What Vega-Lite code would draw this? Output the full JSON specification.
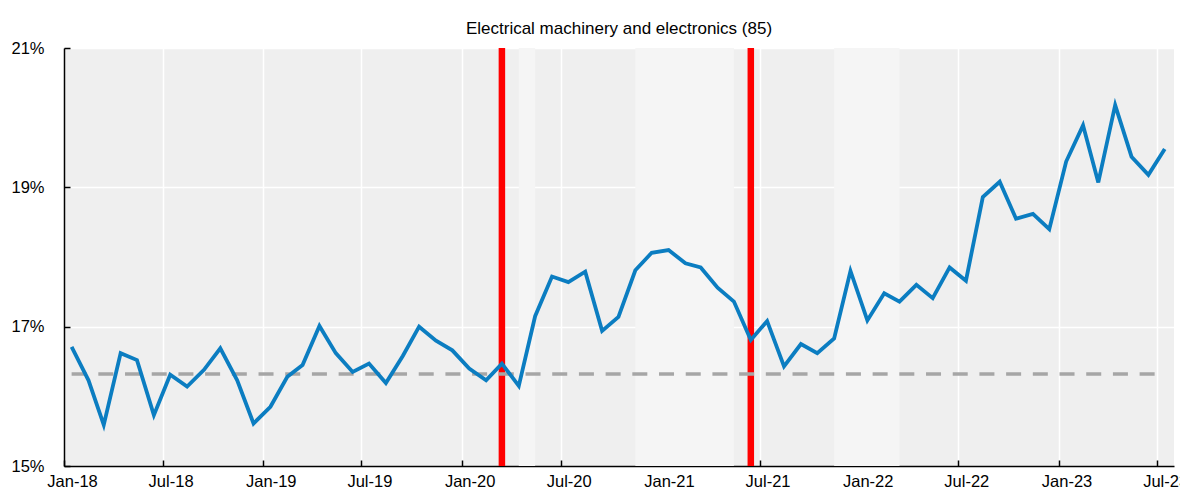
{
  "$schema": "https://vega.github.io/schema/vega-lite/v6.json",
  "autosize": {"type": "none"},
  "width": 1110,
  "height": 418,
  "padding": {"left": 64, "top": 48, "right": 6, "bottom": 25},
  "title": {
    "text": "Electrical machinery and electronics (85)",
    "font": "Liberation Sans, Arial, sans-serif",
    "fontSize": 17,
    "fontWeight": "normal",
    "color": "#000000",
    "anchor": "middle",
    "baseline": "alphabetic",
    "offset": -11
  },
  "config": {
    "view": {"fill": "#efefef", "stroke": null},
    "axis": {
      "domainColor": "#000000",
      "domainWidth": 1.5,
      "tickColor": "#000000",
      "tickWidth": 1.5,
      "tickSize": -6,
      "gridColor": "#ffffff",
      "gridWidth": 1.5,
      "gridOpacity": 1,
      "labelFont": "Liberation Sans, Arial, sans-serif",
      "labelFontSize": 16.5,
      "labelColor": "#000000",
      "title": null
    }
  },
  "datasets": {
    "series": [
      {"month": "2018-01-15", "share": 16.71},
      {"month": "2018-02-15", "share": 16.23},
      {"month": "2018-03-15", "share": 15.59},
      {"month": "2018-04-15", "share": 16.62},
      {"month": "2018-05-15", "share": 16.52},
      {"month": "2018-06-15", "share": 15.73},
      {"month": "2018-07-15", "share": 16.31},
      {"month": "2018-08-15", "share": 16.14},
      {"month": "2018-09-15", "share": 16.38},
      {"month": "2018-10-15", "share": 16.69},
      {"month": "2018-11-15", "share": 16.23},
      {"month": "2018-12-15", "share": 15.61},
      {"month": "2019-01-15", "share": 15.85},
      {"month": "2019-02-15", "share": 16.28},
      {"month": "2019-03-15", "share": 16.45},
      {"month": "2019-04-15", "share": 17.01},
      {"month": "2019-05-15", "share": 16.62},
      {"month": "2019-06-15", "share": 16.35},
      {"month": "2019-07-15", "share": 16.47},
      {"month": "2019-08-15", "share": 16.19},
      {"month": "2019-09-15", "share": 16.58},
      {"month": "2019-10-15", "share": 17.0},
      {"month": "2019-11-15", "share": 16.8},
      {"month": "2019-12-15", "share": 16.66},
      {"month": "2020-01-15", "share": 16.4},
      {"month": "2020-02-15", "share": 16.23},
      {"month": "2020-03-15", "share": 16.47},
      {"month": "2020-04-15", "share": 16.15},
      {"month": "2020-05-15", "share": 17.15},
      {"month": "2020-06-15", "share": 17.72},
      {"month": "2020-07-15", "share": 17.64},
      {"month": "2020-08-15", "share": 17.79},
      {"month": "2020-09-15", "share": 16.94},
      {"month": "2020-10-15", "share": 17.14},
      {"month": "2020-11-15", "share": 17.81},
      {"month": "2020-12-15", "share": 18.06},
      {"month": "2021-01-15", "share": 18.1},
      {"month": "2021-02-15", "share": 17.91},
      {"month": "2021-03-15", "share": 17.85},
      {"month": "2021-04-15", "share": 17.56},
      {"month": "2021-05-15", "share": 17.36},
      {"month": "2021-06-15", "share": 16.81},
      {"month": "2021-07-15", "share": 17.08},
      {"month": "2021-08-15", "share": 16.43},
      {"month": "2021-09-15", "share": 16.75},
      {"month": "2021-10-15", "share": 16.62},
      {"month": "2021-11-15", "share": 16.83},
      {"month": "2021-12-15", "share": 17.8},
      {"month": "2022-01-15", "share": 17.09},
      {"month": "2022-02-15", "share": 17.48},
      {"month": "2022-03-15", "share": 17.36},
      {"month": "2022-04-15", "share": 17.6},
      {"month": "2022-05-15", "share": 17.41},
      {"month": "2022-06-15", "share": 17.85},
      {"month": "2022-07-15", "share": 17.66},
      {"month": "2022-08-15", "share": 18.86},
      {"month": "2022-09-15", "share": 19.08},
      {"month": "2022-10-15", "share": 18.55},
      {"month": "2022-11-15", "share": 18.62},
      {"month": "2022-12-15", "share": 18.4},
      {"month": "2023-01-15", "share": 19.37},
      {"month": "2023-02-15", "share": 19.89},
      {"month": "2023-03-15", "share": 19.07},
      {"month": "2023-04-15", "share": 20.18},
      {"month": "2023-05-15", "share": 19.44},
      {"month": "2023-06-15", "share": 19.18},
      {"month": "2023-07-15", "share": 19.55}
    ],
    "bands": [
      {"start": "2020-04-15", "end": "2020-05-15"},
      {"start": "2020-11-15", "end": "2021-05-15"},
      {"start": "2021-11-15", "end": "2022-03-15"}
    ],
    "events": [
      {"month": "2020-03-15"},
      {"month": "2021-06-15"}
    ],
    "average": [
      {"start": "2018-01-15", "end": "2023-07-15", "share": 16.32}
    ]
  },
  "layer": [
    {
      "data": {"name": "bands"},
      "mark": {"type": "rect", "fill": "#f5f5f5"},
      "encoding": {
        "x": {"field": "start", "type": "temporal"},
        "x2": {"field": "end"}
      }
    },
    {
      "data": {"name": "events"},
      "mark": {"type": "rule", "color": "#ff0000", "strokeWidth": 6.5},
      "encoding": {
        "x": {"field": "month", "type": "temporal"}
      }
    },
    {
      "data": {"name": "average"},
      "mark": {"type": "rule", "color": "#a6a6a6", "strokeWidth": 3.5, "strokeDash": [15, 11.7]},
      "encoding": {
        "x": {"field": "start", "type": "temporal"},
        "x2": {"field": "end"},
        "y": {"field": "share", "type": "quantitative"}
      }
    },
    {
      "data": {"name": "series"},
      "mark": {"type": "line", "color": "#0b7dc1", "strokeWidth": 3.8},
      "encoding": {
        "x": {
          "field": "month",
          "type": "temporal",
          "scale": {
            "type": "utc",
            "domain": [
              {"year": 2018, "month": 1, "date": 1, "utc": true},
              {"year": 2023, "month": 8, "date": 1, "utc": true}
            ]
          },
          "axis": {
            "format": "%b-%y",
            "tickCount": {"interval": "month", "step": 6},
            "labelOffset": 8,
            "labelPadding": 13.5,
            "labelFlush": false,
            "labelOverlap": false
          }
        },
        "y": {
          "field": "share",
          "type": "quantitative",
          "scale": {"domain": [15, 21], "nice": false, "zero": false},
          "axis": {
            "values": [15, 17, 19, 21],
            "labelExpr": "datum.value + '%'",
            "labelPadding": 26
          }
        }
      }
    }
  ]
}
